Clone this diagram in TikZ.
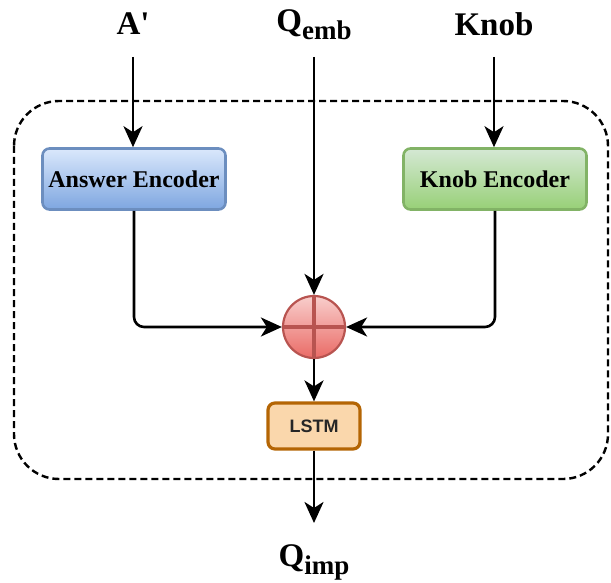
\documentclass[tikz,border=0pt]{standalone}
\usepackage{fontspec}
\setmainfont{Liberation Serif}[Ligatures=TeXOff]
\setsansfont{Liberation Sans}
\usetikzlibrary{arrows.meta}
\definecolor{bluestroke}{HTML}{6C8EBF}
\definecolor{bluetop}{HTML}{DAE8FC}
\definecolor{bluebot}{HTML}{7EA6E0}
\definecolor{greenstroke}{HTML}{82B366}
\definecolor{greentop}{HTML}{D5E8D4}
\definecolor{greenbot}{HTML}{97D077}
\definecolor{redstroke}{HTML}{B85450}
\definecolor{redtop}{HTML}{F8CECC}
\definecolor{redbot}{HTML}{EA6B66}
\definecolor{orangestroke}{HTML}{B46504}
\definecolor{orangefill}{HTML}{FAD7AC}
\tikzset{
  arr/.style={line width=2.6pt,-{Stealth[length=21pt,width=19pt,inset=6pt]}},
  biglabel/.style={font=\fontsize{33}{40}\selectfont\bfseries},
  encbox/.style={rounded corners=7pt,line width=2.6pt,minimum width=183pt,minimum height=61pt,
    font=\fontsize{24}{29}\selectfont\bfseries},
}
\newcommand{\mysub}[1]{\raisebox{-8pt}{\fontsize{27}{32}\selectfont #1}}
\begin{document}
\begin{tikzpicture}[x=1pt,y=-1pt]
\useasboundingbox (0,0) rectangle (611,583);
% dashed frame
\draw[line width=2.4pt,dash pattern=on 7pt off 4pt,rounded corners=45pt] (14,101) rectangle (608,479);
% labels
\node[biglabel] (a) at (133,24) {A'};
\node[biglabel] (q) at (314,25) {Q\mysub{emb}};
\node[biglabel] (k) at (494,24) {Knob};
\node[biglabel] (qi) at (314,562) {Q\mysub{imp}};
% boxes
\node[encbox,draw=bluestroke,top color=bluetop,bottom color=bluebot] (ae) at (134,179) {Answer Encoder};
\node[encbox,draw=greenstroke,top color=greentop,bottom color=greenbot] (ke) at (495,179) {Knob Encoder};
\node[circle,minimum size=62pt,line width=2.2pt,draw=redstroke,top color=redtop,bottom color=redbot,inner sep=0pt] (c) at (314,327) {};
\draw[redstroke,line width=3.4pt] (c.north) -- (c.south) (c.west) -- (c.east);
\node[rounded corners=7pt,line width=3.2pt,draw=orangestroke,fill=orangefill,minimum width=92pt,minimum height=46pt,
  font=\sffamily\bfseries\fontsize{18}{21}\selectfont,text=black!85] (l) at (314,426) {LSTM};
% connector start/end points
\coordinate (a0) at (133,57);
\coordinate (q0) at (314,57);
\coordinate (k0) at (494,57);
\coordinate (out) at (314,523);
% connectors
\draw[arr] (a0) -- (ae.north -| a0);
\draw[arr] (k0) -- (ke.north -| k0);
\draw[arr] (q0) -- (c.north);
\draw[arr,rounded corners=10pt] (ae.south) |- (c.west);
\draw[arr,rounded corners=10pt] (ke.south) |- (c.east);
\draw[arr] (c.south) -- (l.north);
\draw[arr] (l.south) -- (out);
\end{tikzpicture}
\end{document}
